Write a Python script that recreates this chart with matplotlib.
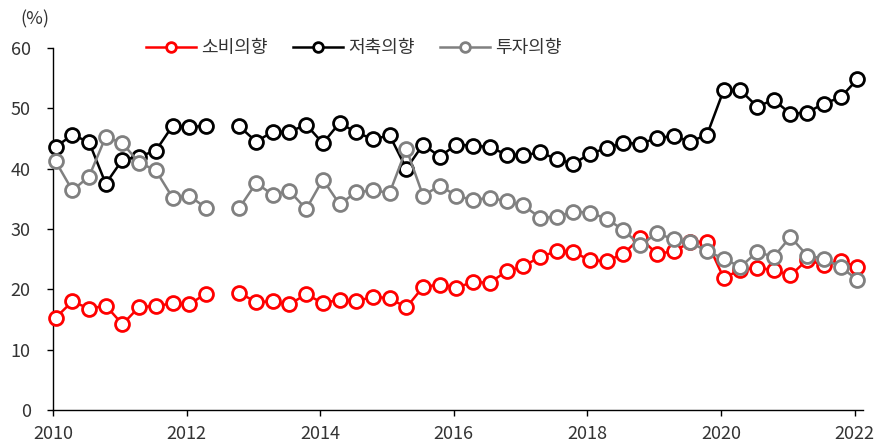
import numpy as np
import matplotlib
matplotlib.use("Agg")
import matplotlib.pyplot as plt

plt.rcParams['font.family'] = ['Noto Sans CJK KR', 'DejaVu Sans']

# Quarterly survey points (Jan/Apr/Jul/Oct), 2010Q1 .. 2022Q1; 2012Q3 missing
quarters = np.arange(49)
x_years = 2010.04 + 0.25 * quarters

consume = [15.3, 18.0, 16.8, 17.3, 14.2, 17.1, 17.2, 17.7, 17.5, 19.3,
           np.nan, 19.4, 17.9, 18.0, 17.5, 19.2, 17.7, 18.3, 18.0, 18.8,
           18.5, 17.0, 20.4, 20.8, 20.3, 21.2, 21.1, 23.0, 23.8, 25.4,
           26.3, 26.2, 24.8, 24.7, 25.9, 28.5, 25.9, 26.3, 27.8, 27.9,
           21.9, 23.2, 23.6, 23.2, 22.3, 24.9, 24.0, 24.7, 23.7]

saving = [43.6, 45.6, 44.4, 37.5, 41.5, 42.0, 43.0, 47.1, 46.9, 47.1,
          np.nan, 47.0, 44.5, 46.1, 46.1, 47.3, 44.2, 47.6, 46.0, 44.9,
          45.5, 40.0, 44.0, 42.0, 44.0, 43.8, 43.6, 42.3, 42.2, 42.7,
          41.6, 40.8, 42.5, 43.4, 44.3, 44.1, 45.1, 45.4, 44.5, 45.6,
          53.0, 53.0, 50.3, 51.4, 49.1, 49.3, 50.8, 51.8, 54.8]

invest = [41.2, 36.4, 38.7, 45.3, 44.2, 41.0, 39.7, 35.2, 35.5, 33.5,
          np.nan, 33.5, 37.6, 35.7, 36.3, 33.3, 38.2, 34.1, 36.1, 36.4,
          36.0, 43.3, 35.5, 37.2, 35.5, 34.8, 35.2, 34.6, 33.9, 31.9,
          32.0, 32.9, 32.7, 31.7, 29.8, 27.3, 29.3, 28.3, 27.8, 26.3,
          25.1, 23.7, 26.2, 25.4, 28.7, 25.6, 25.1, 23.7, 21.6]

labels = ['소비의향', '저축의향', '투자의향']
colors = ['#ff0000', '#000000', '#808080']
xticks = [2010, 2012, 2014, 2016, 2018, 2020, 2022]
yticks = [0, 10, 20, 30, 40, 50, 60]

fig = plt.figure(figsize=(8.93, 4.42), dpi=100)
ax = fig.add_axes([53/893, 32/442, 810/893, 362/442])

for series, lab, col in zip([consume, saving, invest], labels, colors):
    ax.plot(x_years, series, color=col, lw=1.8, marker='o', markersize=10,
            markerfacecolor='white', markeredgecolor=col, markeredgewidth=2.0,
            label=lab, clip_on=False, zorder=3)

ax.set_xlim(2010, 2010 + 810/66.8)
ax.set_ylim(0, 60)
ax.set_xticks(xticks)
ax.set_yticks(yticks)
ax.set_xticklabels([str(t) for t in xticks])
ax.spines['top'].set_visible(False)
ax.spines['right'].set_visible(False)
for s in ['left', 'bottom']:
    ax.spines[s].set_linewidth(1.0)
    ax.spines[s].set_color('#000000')
ax.tick_params(axis='both', direction='out', length=4, width=1.0,
               labelsize=13, colors='#000000', labelcolor='#333333')
ax.tick_params(axis='x', pad=7)
ax.tick_params(axis='y', pad=12)

fig.text(20/893, 1 - 19/442, '(%)', fontsize=13, color='#333333',
         ha='left', va='center')

leg = ax.legend(loc='center', bbox_to_anchor=(0.371, 1.0), ncol=3,
                frameon=False, fontsize=13, handlelength=2.8, markerscale=0.7,
                columnspacing=1.4, handletextpad=0.25)
for t in leg.get_texts():
    t.set_color('#333333')

fig.savefig('out.png', dpi=100)
